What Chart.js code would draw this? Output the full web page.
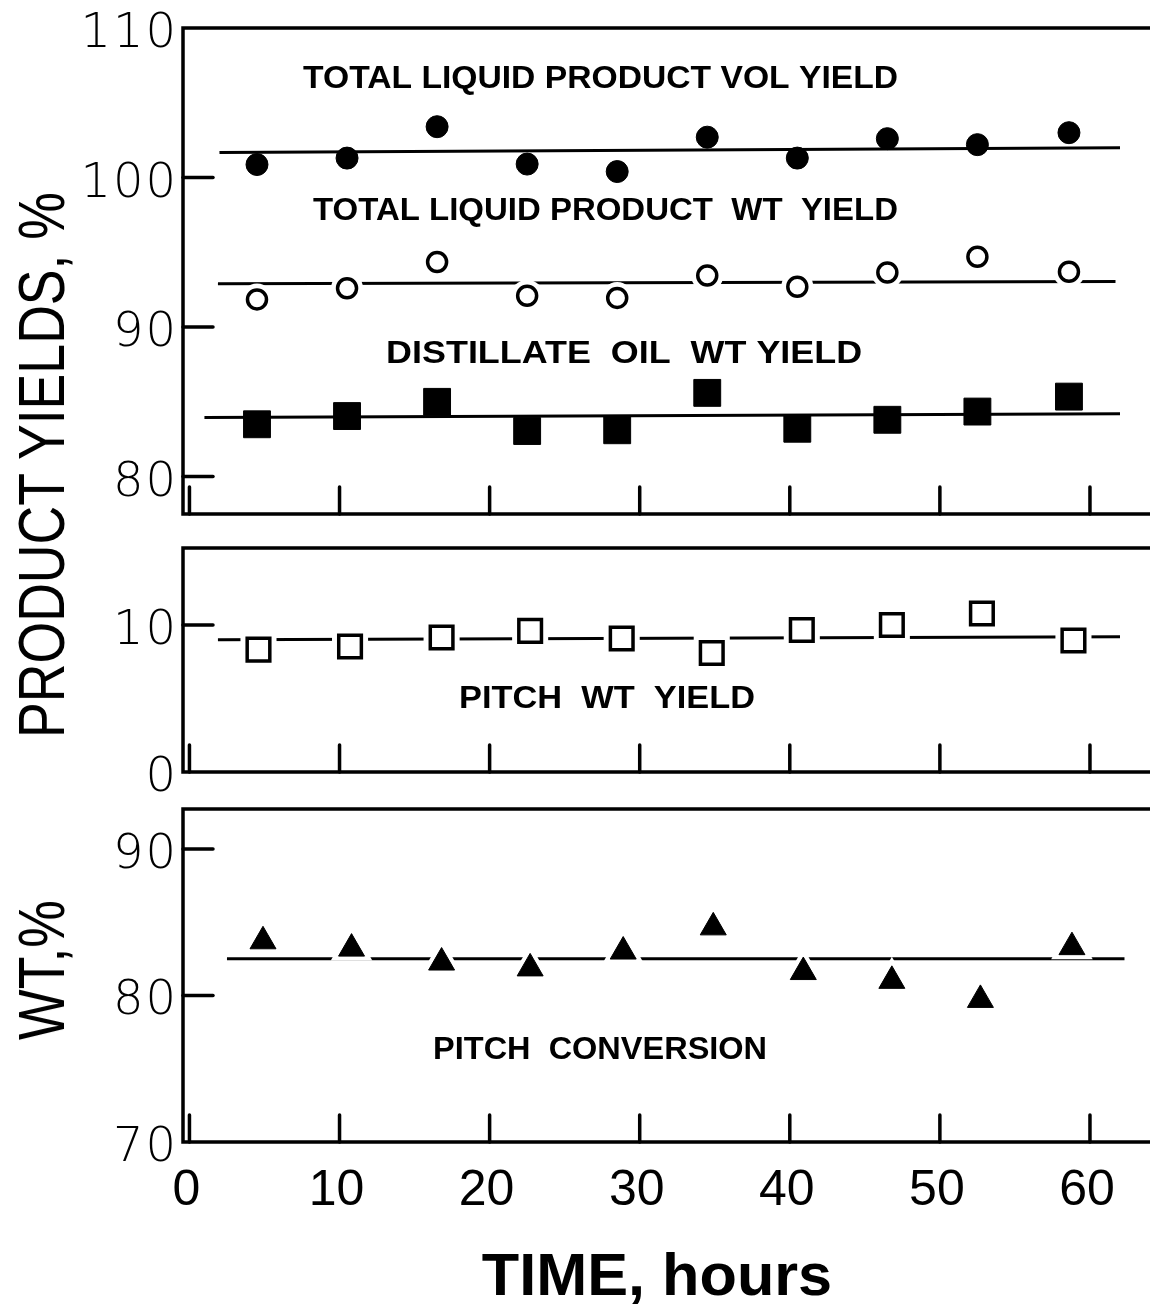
<!DOCTYPE html>
<html>
<head>
<meta charset="utf-8">
<script src="https://cdn.jsdelivr.net/npm/chart.js@4"></script>
<style>
  html, body { margin: 0; padding: 0; background: #fff; overflow: hidden; width: 1150px; height: 1308px; }
  .box { position: absolute; left: 0; width: 1150px; }
  .lbl { position: absolute; color: #000; white-space: nowrap; line-height: 1; font-family: "Liberation Sans", Arial, sans-serif; }
</style>
</head>
<body>
<div class="box" style="top:0;height:530px"><canvas id="top"></canvas></div>
<div class="box" style="top:530px;height:262px"><canvas id="mid"></canvas></div>
<div class="box" style="top:792px;height:516px"><canvas id="bot"></canvas></div>
<div class="lbl" id="yTitle" style="font-size:64px">PRODUCT YIELDS, %</div>
<div class="lbl" id="wtTitle" style="font-size:64px">WT,%</div>
<div class="lbl" id="xTitle" style="font-size:60px;font-weight:bold">TIME, hours</div>
<script>
// axis ticks
const X_TICKS = [0, 10, 20, 30, 40, 50, 60];
const TOP_Y_TICKS = [80, 90, 100, 110];
const MID_Y_TICKS = [0, 10];
const BOT_Y_TICKS = [70, 80, 90];

// sample times, hours (read per panel)
const hoursTop = [4.5, 10.5, 16.5, 22.5, 28.5, 34.5, 40.5, 46.5, 52.5, 58.6];
const hoursMid = [4.6, 10.7, 16.8, 22.7, 28.8, 34.8, 40.8, 46.8, 52.8, 58.9];
const hoursBot = [4.9, 10.8, 16.8, 22.7, 28.9, 34.9, 40.9, 46.8, 52.7, 58.8];

// product yields, %
const volYield = [100.87, 101.3, 103.4, 100.9, 100.4, 102.7, 101.3, 102.6, 102.2, 103.0];
const wtYield = [91.85, 92.6, 94.35, 92.1, 91.95, 93.45, 92.7, 93.65, 94.7, 93.7];
const distYield = [83.5, 84.05, 85.0, 83.05, 83.1, 85.6, 83.2, 83.8, 84.35, 85.35];
const pitchYield = [8.33, 8.54, 9.15, 9.6, 9.08, 8.1, 9.66, 10.0, 10.78, 8.95];
const pitchConv = [83.7, 83.2, 82.25, 81.85, 83.0, 84.65, 81.6, 81.0, 79.7, 83.3];

// average lines: [start, end]
const volLineX = [2.0, 62.0], volLineY = [101.67, 102.0];
const wtLineX = [1.9, 61.7], wtLineY = [92.9, 93.05];
const distLineX = [1.0, 62.0], distLineY = [83.95, 84.2];
const pitchLineX = [1.9, 62.0], pitchLineY = [9.0, 9.2];
const convLineX = [2.5, 62.3], convLineY = [82.5, 82.5];

const X_MIN = -0.43, X_MAX = 64.0;

const pts = (xs, ys) => xs.map((x, i) => ({ x: x, y: ys[i] }));

function trend(xs, ys) {
  return { data: pts(xs, ys), showLine: true, borderColor: "#000", borderWidth: 3,
           pointRadius: 0, order: 3 };
}
function halo(xs, ys, style, r) {
  return { data: pts(xs, ys), pointStyle: style, pointRadius: r, pointBackgroundColor: "#fff",
           pointBorderWidth: 0, pointBorderColor: "#fff", order: 2 };
}
function marks(xs, ys, style, r, filled) {
  return { data: pts(xs, ys), pointStyle: style, pointRadius: r,
           pointBackgroundColor: filled ? "#000" : "#fff", pointBorderColor: "#000",
           pointBorderWidth: filled ? 1 : 3.5, order: 1 };
}

// frame, inside ticks, tick labels and curve names
const framePlugin = {
  id: "frame",
  afterDraw(chart, args, opts) {
    const { ctx, chartArea: a } = chart;
    const x = chart.scales.x, y = chart.scales.y;
    ctx.save();
    ctx.strokeStyle = "#000";
    ctx.fillStyle = "#000";
    ctx.lineWidth = 3.5;
    ctx.beginPath();
    ctx.moveTo(chart.width + 5, a.top);
    ctx.lineTo(a.left, a.top);
    ctx.lineTo(a.left, a.bottom);
    ctx.lineTo(chart.width + 5, a.bottom);
    ctx.stroke();
    ctx.lineCap = "round";

    ctx.font = '300 48px "DejaVu Sans"';
    ctx.textAlign = "right";
    ctx.textBaseline = "alphabetic";
    ctx.letterSpacing = "2px";
    y.ticks.forEach((t) => {
      const py = y.getPixelForValue(t.value);
      ctx.fillText(String(t.value), a.left - 5, py + 19);
      if (py < a.top + 4 || py > a.bottom - 4) return;
      ctx.beginPath(); ctx.moveTo(a.left, py); ctx.lineTo(a.left + 30, py); ctx.stroke();
    });
    ctx.letterSpacing = "0px";

    ctx.font = '50px "Liberation Sans"';
    ctx.textAlign = "center";
    x.ticks.forEach((t) => {
      const px = x.getPixelForValue(t.value);
      if (opts.xLabels) ctx.fillText(String(t.value), px - 3, a.bottom + 63);
      if (px < a.left + 4) return;
      ctx.beginPath(); ctx.moveTo(px, a.bottom); ctx.lineTo(px, a.bottom - 27); ctx.stroke();
    });

    (opts.notes || []).forEach((n) => {
      ctx.font = 'bold 31px "Liberation Sans"';
      const w = ctx.measureText(n.text).width;
      ctx.save();
      ctx.translate(x.getPixelForValue(n.x), y.getPixelForValue(n.y) + 31 * 0.716 / 2);
      ctx.scale(n.width / w, 1);
      ctx.textAlign = "center";
      ctx.fillText(n.text, 0, 0);
      ctx.restore();
    });
    ctx.restore();
  }
};

function makeChart(id, cfg) {
  return new Chart(document.getElementById(id), {
    type: "scatter",
    data: { datasets: cfg.datasets },
    options: {
      responsive: true,
      maintainAspectRatio: false,
      animation: false,
      layout: { autoPadding: false, padding: { top: cfg.padTop, bottom: cfg.padBottom, left: 0, right: 0 } },
      plugins: {
        legend: { display: false }, tooltip: { enabled: false },
        frame: { notes: cfg.notes, xLabels: cfg.xLabels }
      },
      scales: {
        x: {
          type: "linear", min: X_MIN, max: X_MAX,
          grid: { display: false, drawTicks: false }, border: { display: false },
          afterBuildTicks: (s) => { s.ticks = X_TICKS.map((v) => ({ value: v })); },
          afterFit: (s) => { s.height = cfg.xHeight; },
          ticks: { display: false }
        },
        y: {
          type: "linear", min: cfg.yMin, max: cfg.yMax,
          grid: { display: false, drawTicks: false }, border: { display: false },
          afterBuildTicks: (s) => { s.ticks = cfg.yTicks.map((v) => ({ value: v })); },
          afterFit: (s) => { s.width = 183; },
          ticks: { display: false }
        }
      }
    },
    plugins: [framePlugin]
  });
}

makeChart("top", {
  yMin: 77.5, yMax: 110.0, yTicks: TOP_Y_TICKS, padTop: 28, padBottom: 16, xHeight: 0, xLabels: false,
  datasets: [
    trend(volLineX, volLineY),
    trend(wtLineX, wtLineY),
    trend(distLineX, distLineY),
    halo(hoursTop, wtYield, "circle", 16),
    marks(hoursTop, volYield, "circle", 11, true),
    marks(hoursTop, wtYield, "circle", 9.5, false),
    marks(hoursTop, distYield, "rect", 19, true)
  ],
  notes: [
    { text: "TOTAL LIQUID PRODUCT VOL YIELD", x: 27.39, y: 106.72, width: 595 },
    { text: "TOTAL LIQUID PRODUCT  WT  YIELD", x: 27.72, y: 97.93, width: 585 },
    { text: "DISTILLATE  OIL  WT YIELD", x: 28.96, y: 88.36, width: 476 }
  ]
});

makeChart("mid", {
  yMin: 0, yMax: 15.24, yTicks: MID_Y_TICKS, padTop: 18, padBottom: 20, xHeight: 0, xLabels: false,
  datasets: [
    trend(pitchLineX, pitchLineY),
    halo(hoursMid, pitchYield, "rect", 25.5),
    marks(hoursMid, pitchYield, "rect", 16, false)
  ],
  notes: [
    { text: "PITCH  WT  YIELD", x: 27.82, y: 5.1, width: 296 }
  ]
});

makeChart("bot", {
  yMin: 70, yMax: 92.73, yTicks: BOT_Y_TICKS, padTop: 17, padBottom: 0, xHeight: 166, xLabels: true,
  datasets: [
    trend(convLineX, convLineY),
    halo(hoursBot, pitchConv, "triangle", 24),
    marks(hoursBot, pitchConv, "triangle", 15, true)
  ],
  notes: [
    { text: "PITCH  CONVERSION", x: 27.36, y: 76.45, width: 334 }
  ]
});

// axis titles outside the plot frames
function placeTitle(id, cx, cy, length, rotate) {
  const el = document.getElementById(id);
  const k = length / el.offsetWidth;
  el.style.left = cx + "px";
  el.style.top = cy + "px";
  el.style.transform = "translate(-50%, -50%)" + (rotate ? " rotate(-90deg)" : "") + " scaleX(" + k + ")";
}
placeTitle("yTitle", 42, 465, 546, true);
placeTitle("wtTitle", 42, 970, 140, true);
placeTitle("xTitle", 657, 1275, 350, false);
</script>
</body>
</html>
